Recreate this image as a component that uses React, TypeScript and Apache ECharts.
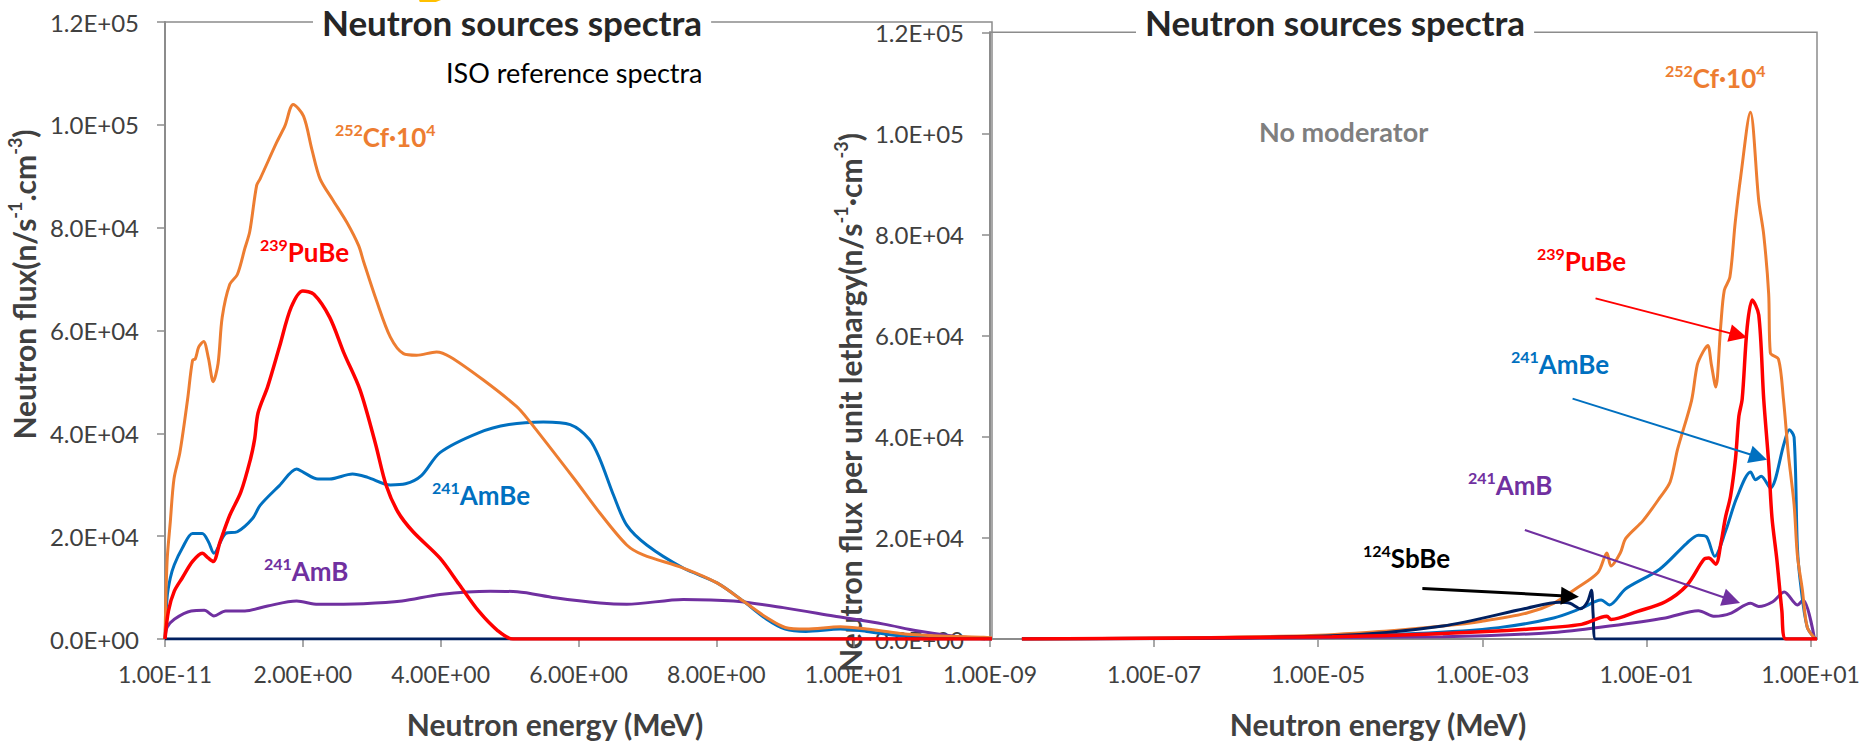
import React, { useEffect, useRef } from 'react';
import * as echarts from 'echarts';

// ---------------- data ----------------
// Left panel: ISO reference spectra, neutron flux vs neutron energy (MeV), linear energy axis
const cf252Flux: [number, number][] = [
  [1e-11, 0], [0.03, 15080], [0.077, 22780], [0.13, 31100], [0.216, 36250], [0.327, 46520],
  [0.4, 54220], [0.44, 54500], [0.49, 56800], [0.56, 57880], [0.63, 54610], [0.7, 50050],
  [0.77, 53580], [0.83, 62560], [0.94, 68980], [1.05, 70900], [1.16, 76040], [1.23, 79250],
  [1.33, 88230], [1.38, 89500], [1.62, 96570], [1.74, 99780], [1.86, 103950], [2.01, 101700],
  [2.13, 95290], [2.25, 89500], [2.44, 85300], [2.64, 81000], [2.81, 76500], [2.88, 73470],
  [3.07, 65770], [3.27, 58710], [3.46, 55500], [3.65, 55180], [3.94, 55830], [4.14, 54860],
  [4.62, 50370], [5.1, 45240], [5.27, 42670], [5.94, 31120], [6.31, 24500], [6.7, 18290],
  [6.94, 16360], [7.52, 13800], [8.01, 10910], [8.39, 7380], [8.73, 4170], [9.0, 2250],
  [9.3, 1930], [9.8, 2370], [10.18, 1930], [10.67, 1090], [11.15, 640], [11.88, 320], [12, 250],
];
const pu239Flux: [number, number][] = [
  [1e-11, 0], [0.05, 5450], [0.135, 9300], [0.25, 11870], [0.4, 15080], [0.54, 16680],
  [0.63, 15720], [0.7, 15080], [0.8, 18930], [0.94, 24060], [1.1, 28550], [1.24, 34970],
  [1.3, 38820], [1.35, 43950], [1.49, 49090], [1.66, 56790], [1.83, 64490], [2.0, 67700],
  [2.16, 67060], [2.39, 62560], [2.6, 55500], [2.83, 48450], [3.05, 38180], [3.21, 29840],
  [3.38, 24700], [3.6, 20850], [3.99, 15720], [4.27, 10590], [4.55, 5450], [4.83, 1600],
  [5.05, 0], [8, 0], [12, 0],
];
const am241BeFlux: [number, number][] = [
  [1e-11, 0], [0.03, 8020], [0.077, 11870], [0.135, 14440], [0.25, 17650], [0.4, 20530],
  [0.54, 20530], [0.63, 18930], [0.71, 16680], [0.88, 20530], [1.05, 20850], [1.27, 23420],
  [1.38, 25990], [1.66, 29840], [1.91, 33050], [2.01, 32400], [2.22, 31120], [2.39, 31120],
  [2.72, 32080], [2.94, 31440], [3.27, 29970], [3.49, 30180], [3.72, 31760], [3.99, 36250],
  [4.55, 40100], [4.99, 41710], [5.49, 42220], [5.88, 41710], [6.16, 38820], [6.31, 35000],
  [6.51, 27910], [6.7, 22140], [6.99, 18290], [7.52, 13800], [8.01, 10910], [8.39, 7380],
  [8.73, 3850], [9.0, 1930], [9.3, 1480], [9.8, 1930], [10.18, 1480], [10.67, 640],
  [11.4, 320], [12, 0],
];
const am241BFlux: [number, number][] = [
  [1e-11, 0], [0.03, 2250], [0.135, 3850], [0.38, 5450], [0.57, 5580], [0.71, 4490],
  [0.88, 5450], [1.16, 5450], [1.49, 6420], [1.91, 7380], [2.22, 6740], [2.88, 6870],
  [3.44, 7380], [3.99, 8660], [4.72, 9300], [5.11, 9190], [5.66, 8020], [6.31, 7000],
  [6.7, 6740], [7.52, 7700], [8.25, 7380], [8.97, 6100], [9.7, 4490], [10.43, 2890],
  [10.91, 1600], [11.4, 640], [11.9, 0],
];
const sb124BeFlux: [number, number][] = [
  [1e-11, 0], [0.024, 0], [6, 0], [12, 0],
];

// Right panel: neutron flux per unit lethargy vs neutron energy (MeV), logarithmic energy axis
const cf252Leth: [number, number][] = [
  [2.45e-9, 0], [6.9e-6, 640], [7.1e-5, 1600], [3.3e-4, 2570], [1.0e-3, 3530], [3.5e-3, 5130],
  [7.4e-3, 7060], [0.0138, 9940], [0.0257, 13150], [0.033, 17000], [0.037, 14440], [0.048, 17000],
  [0.056, 19890], [0.091, 23420], [0.145, 27910], [0.195, 31120], [0.24, 37540], [0.355, 47160],
  [0.417, 54220], [0.49, 56790], [0.56, 58070], [0.62, 54220], [0.7, 49830], [0.805, 61920],
  [0.89, 68980], [1.04, 71540], [1.21, 82450], [1.41, 91440], [1.85, 104200], [2.34, 86660],
  [2.69, 79980], [3.09, 68340], [3.24, 56600], [4.07, 55360], [4.68, 47430], [5.37, 36575],
  [6.31, 26570], [6.92, 16560], [7.94, 9870], [9.12, 2350], [11.5, 0],
];
const pu239Leth: [number, number][] = [
  [2.45e-9, 0], [1.48e-5, 450], [3.3e-4, 1090], [3.5e-3, 1930], [0.0162, 2890], [0.033, 4490],
  [0.037, 3850], [0.078, 5450], [0.17, 7380], [0.31, 10590], [0.5, 15720], [0.575, 16000],
  [0.7, 14800], [0.81, 19000], [0.92, 24060], [1.06, 28240], [1.22, 35750], [1.34, 44080],
  [1.47, 47430], [1.69, 61620], [1.95, 67050], [2.34, 64120], [2.69, 47430], [3.09, 34900],
  [3.39, 24060], [3.89, 15710], [4.47, 5700], [5.0, 0], [12, 0],
];
const am241BeLeth: [number, number][] = [
  [2.45e-9, 0], [6.9e-6, 450], [1.55e-4, 1090], [1.58e-3, 2250], [7.4e-3, 4170], [0.0162, 6100],
  [0.028, 7700], [0.0355, 6740], [0.056, 9940], [0.145, 13800], [0.31, 18930], [0.43, 20530],
  [0.54, 20210], [0.68, 16360], [0.93, 21500], [1.26, 27910], [1.86, 33050], [2.14, 31500],
  [2.51, 32200], [3.24, 29840], [4.79, 38820], [5.5, 41390], [6.31, 39920], [6.92, 18210],
  [7.59, 10700], [9.12, 2350], [11.5, 0],
];
const am241BLeth: [number, number][] = [
  [2.45e-9, 0], [3.3e-4, 450], [7.4e-3, 1280], [0.0355, 2570], [0.17, 4170], [0.43, 5580],
  [0.68, 4490], [1.08, 5130], [1.86, 7060], [2.34, 6420], [3.47, 7380], [4.79, 9300],
  [6.92, 6740], [8.13, 7700], [11.2, 0],
];
const sb124BeLeth: [number, number][] = [
  [2.45e-9, 0], [1.48e-5, 640], [3.3e-4, 2570], [3.5e-3, 6100], [8.7e-3, 7250], [0.0117, 7060],
  [0.0158, 5970], [0.019, 7250], [0.0214, 9620], [0.0224, 5000], [0.024, 0], [12, 0],
];

// axis ticks
const fluxTicks = [0, 20000, 40000, 60000, 80000, 100000, 120000];
const linEnergyTicks = [1e-11, 2, 4, 6, 8, 10, 12];
const logEnergyTicks = [1e-9, 1e-7, 1e-5, 1e-3, 1e-1, 1e1];
const logEnergyMax = 12;

// ---------------- styles ----------------
const FONT = 'Lato, "Open Sans", "Noto Sans", sans-serif';
const AXIS = '#8c8c8c';
const TEXT = '#404040';
const C_CF = '#ED7D31';
const C_PU = '#FF0000';
const C_AMBE = '#0070C0';
const C_AMB = '#7030A0';
const C_SB = '#002060';

const sci = (v: number, digits: number) => {
  const [m, e] = v.toExponential(digits).split('e');
  const n = parseInt(e, 10);
  return `${m}E${n < 0 ? '-' : '+'}${String(Math.abs(n)).padStart(2, '0')}`;
};

const nameStyle = (padding: number[]) => ({
  fontFamily: FONT,
  fontSize: 30,
  fontWeight: 'bold',
  color: TEXT,
  lineHeight: 36,
  padding,
  rich: {
    s: { fontFamily: FONT, fontSize: 18, fontWeight: 'bold', color: TEXT, verticalAlign: 'top', lineHeight: 18 },
  },
});

const yAxis = (gridIndex: number, name: string, gap: number, padding: number[]) => ({
  type: 'value',
  gridIndex,
  min: fluxTicks[0],
  max: fluxTicks[fluxTicks.length - 1],
  interval: fluxTicks[1] - fluxTicks[0],
  name,
  nameLocation: 'middle',
  nameGap: gap,
  nameTextStyle: nameStyle(padding),
  axisLine: { show: true, lineStyle: { color: AXIS, width: 2 } },
  axisTick: { show: true, length: 8, lineStyle: { color: AXIS, width: 1.5 } },
  axisLabel: { margin: 26, fontFamily: FONT, fontSize: 24, color: TEXT, formatter: (v: number) => sci(v, 1) },
  splitLine: { show: false },
});

const line = (name: string, data: [number, number][], color: string, idx: number, extra: any = {}) => ({
  type: 'line',
  name,
  xAxisIndex: idx,
  yAxisIndex: idx,
  data,
  symbol: 'none',
  showSymbol: false,
  smooth: 0.3,
  silent: true,
  animation: false,
  lineStyle: { color, width: 3 },
  itemStyle: { color },
  ...extra,
});

const arrow = (color: string, from: [number, number], to: [number, number], width = 2) => ({
  markLine: {
    silent: true,
    animation: false,
    symbol: ['none', 'triangle'],
    symbolSize: 18,
    label: { show: false },
    lineStyle: { color, width, type: 'solid' },
    emphasis: { disabled: true },
    data: [[{ coord: from }, { coord: to }]],
  },
});

const supLabel = (x: number, y: number, sup: string, main: string, color: string, sup2 = '') => ({
  type: 'text',
  x,
  y,
  silent: true,
  z: 50,
  style: {
    text: `{s|${sup}}{m|${main}}` + (sup2 ? `{s|${sup2}}` : ''),
    rich: {
      s: { fontFamily: FONT, fontSize: 16, fontWeight: 'bold', fill: color, verticalAlign: 'top', lineHeight: 16 },
      m: { fontFamily: FONT, fontSize: 26, fontWeight: 'bold', fill: color, lineHeight: 32 },
    },
    align: 'left',
    verticalAlign: 'middle',
  },
});

const titleStyle = { fontFamily: FONT, fontSize: 35, fontWeight: 'bold', color: '#262626' };

const option: any = {
  animation: false,
  backgroundColor: '#ffffff',
  title: [
    { text: 'Neutron sources spectra', left: 313, top: 2, padding: [2, 9], backgroundColor: '#ffffff', textStyle: titleStyle },
    { text: 'ISO reference spectra', left: 446, top: 59, padding: 0, textStyle: { fontFamily: FONT, fontSize: 27, fontWeight: 'normal', color: '#000000' } },
    { text: 'Neutron sources spectra', left: 1136, top: 2, padding: [2, 9], backgroundColor: '#ffffff', textStyle: titleStyle },
    { text: 'No moderator', left: 1259, top: 118, padding: 0, textStyle: { fontFamily: FONT, fontSize: 27, fontWeight: 'bold', color: '#7f7f7f' } },
  ],
  grid: [
    { left: 165, top: 22, width: 827, height: 623, show: true, borderColor: AXIS, borderWidth: 1.5, backgroundColor: 'transparent' },
    { left: 990, top: 22, width: 827, height: 623, show: true, borderColor: AXIS, borderWidth: 1.5, backgroundColor: 'transparent' },
  ],
  xAxis: [
    {
      type: 'value',
      gridIndex: 0,
      min: linEnergyTicks[0],
      max: linEnergyTicks[linEnergyTicks.length - 1],
      interval: linEnergyTicks[2] - linEnergyTicks[1],
      name: 'Neutron energy (MeV)',
      nameLocation: 'middle',
      nameGap: 67,
      nameTextStyle: nameStyle([0, 47, 0, 0]),
      axisLine: { show: true, lineStyle: { color: AXIS, width: 2 } },
      axisTick: { show: true, length: 8, lineStyle: { color: AXIS, width: 1.5 } },
      axisLabel: { margin: 23, fontFamily: FONT, fontSize: 23, color: TEXT, showMaxLabel: false, formatter: (v: number) => sci(v, 2) },
      splitLine: { show: false },
    },
    {
      type: 'log',
      logBase: 10,
      gridIndex: 1,
      min: logEnergyTicks[0],
      max: logEnergyMax,
      interval: Math.log10(logEnergyTicks[1] / logEnergyTicks[0]),
      name: 'Neutron energy (MeV)',
      nameLocation: 'middle',
      nameGap: 67,
      nameTextStyle: nameStyle([0, 51, 0, 0]),
      axisLine: { show: true, lineStyle: { color: AXIS, width: 2 } },
      axisTick: { show: true, length: 8, lineStyle: { color: AXIS, width: 1.5 } },
      axisLabel: {
        margin: 23, fontFamily: FONT, fontSize: 23, color: TEXT, showMaxLabel: false,
        formatter: (v: number) => {
          const ex = Math.log10(v);
          const r = Math.round(ex);
          if (Math.abs(ex - r) > 1e-6 || Math.abs(r % 2) !== 1) return '';
          return sci(Math.pow(10, r), 2);
        },
      },
      splitLine: { show: false },
      minorSplitLine: { show: false },
    },
  ],
  yAxis: [
    yAxis(0, 'Neutron flux(n/s{s|-1}.cm{s|-3})', 123, [0, 0, 0, 92]),
    yAxis(1, 'Neutron flux per unit lethargy(n/s{s|-1}·cm{s|-3})', 122, [0, 134, 0, 0]),
  ],
  series: [
    line('241AmB', am241BFlux, C_AMB, 0),
    line('241AmBe', am241BeFlux, C_AMBE, 0),
    line('252Cf', cf252Flux, C_CF, 0),
    line('124SbBe', sb124BeFlux, C_SB, 0),
    line('239PuBe', pu239Flux, C_PU, 0, { lineStyle: { color: C_PU, width: 3.5 } }),

    line('241AmB lethargy', am241BLeth, C_AMB, 1, arrow(C_AMB, [0.0033, 21560], [1.09, 7700])),
    line('241AmBe lethargy', am241BeLeth, C_AMBE, 1, arrow(C_AMBE, [0.0126, 47550], [2.32, 36000])),
    line('252Cf lethargy', cf252Leth, C_CF, 1),
    line('124SbBe lethargy', sb124BeLeth, C_SB, 1, arrow('#000000', [1.86e-4, 10010], [0.0117, 8470], 3)),
    line('239PuBe lethargy', pu239Leth, C_PU, 1, { lineStyle: { color: C_PU, width: 3.5 }, ...arrow(C_PU, [0.024, 67375], [1.32, 60060]) }),
  ],
  graphic: [
    { type: 'polygon', silent: true, shape: { points: [[419, 0], [441, 0], [428, 5], [421, 5]] }, style: { fill: '#FFC000' } },
    supLabel(335, 137, '252', 'Cf·10', C_CF, '4'),
    supLabel(260, 252, '239', 'PuBe', C_PU),
    supLabel(432, 495, '241', 'AmBe', C_AMBE),
    supLabel(264, 571, '241', 'AmB', C_AMB),
    supLabel(1665, 78, '252', 'Cf·10', C_CF, '4'),
    supLabel(1537, 261, '239', 'PuBe', C_PU),
    supLabel(1511, 364, '241', 'AmBe', C_AMBE),
    supLabel(1468, 485, '241', 'AmB', C_AMB),
    supLabel(1363, 558, '124', 'SbBe', '#000000'),
  ],
};

export default function App() {
  const ref = useRef<HTMLDivElement>(null);
  useEffect(() => {
    if (!ref.current) return;
    const chart = echarts.init(ref.current, null, { renderer: 'svg' });
    chart.setOption(option);
    return () => chart.dispose();
  }, []);
  return (
    <div
      ref={ref}
      style={{ position: 'fixed', left: 0, top: 0, width: 1868, height: 747, background: '#ffffff' }}
    />
  );
}
